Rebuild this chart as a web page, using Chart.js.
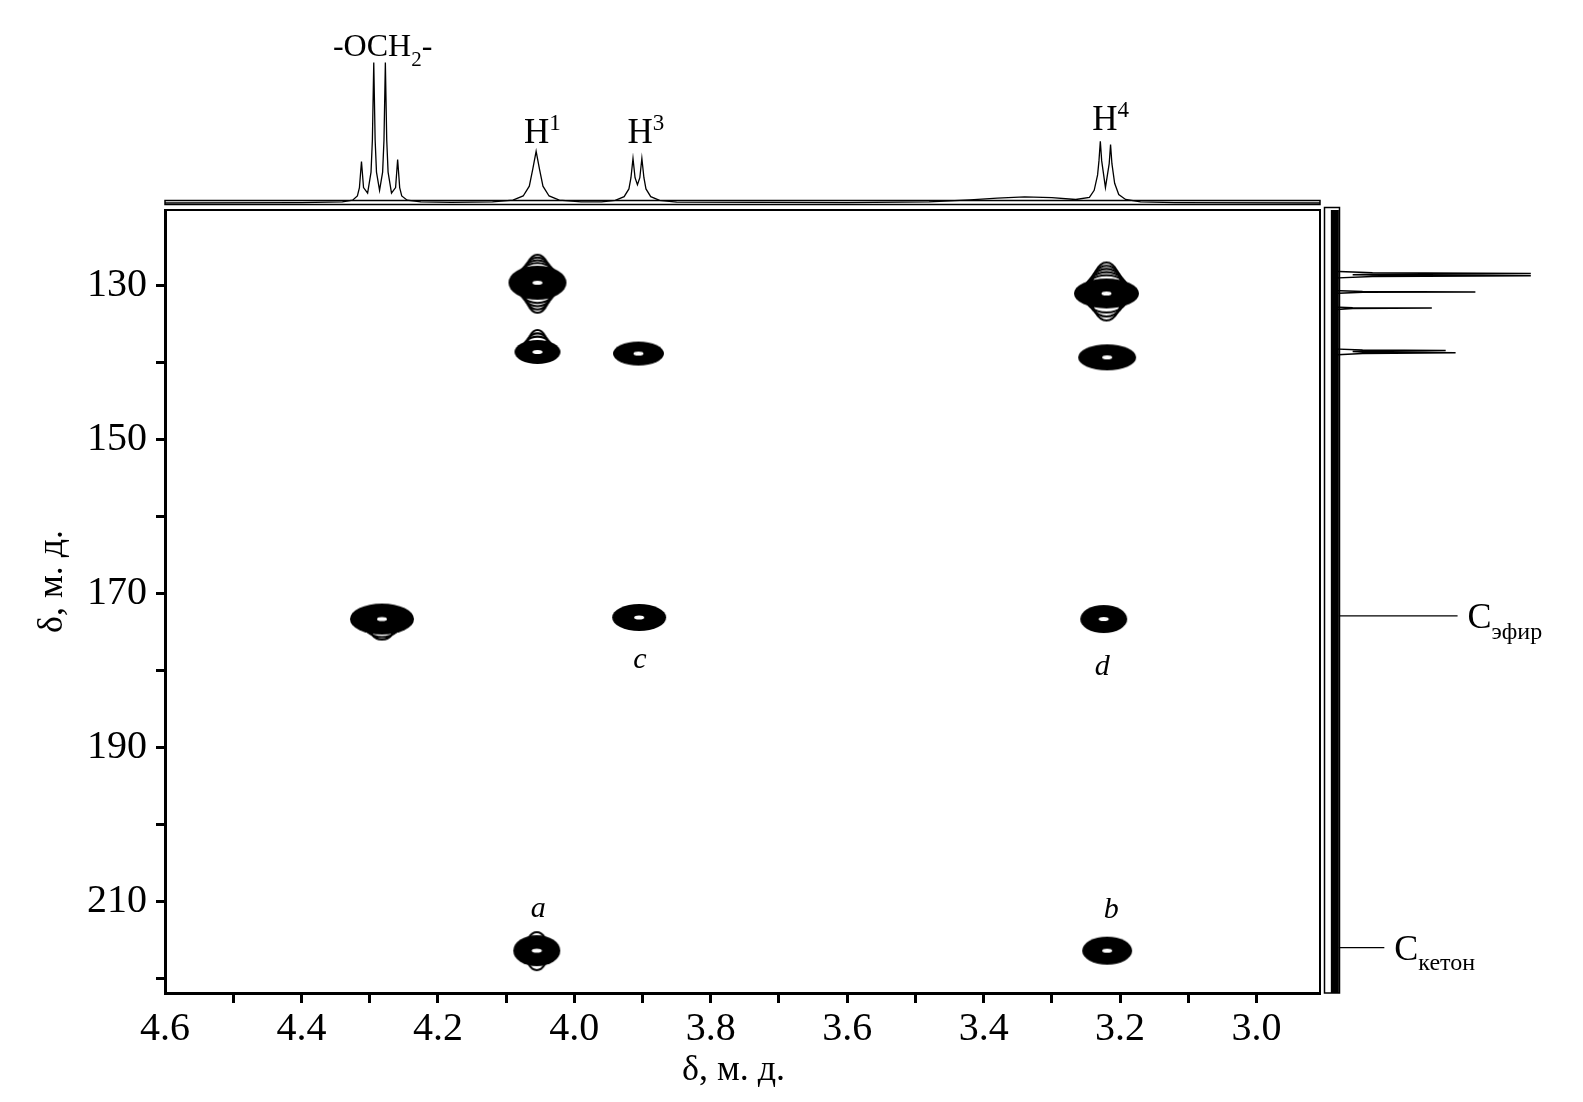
<!DOCTYPE html>
<html>
<head>
<meta charset="utf-8">
<script src="https://cdn.jsdelivr.net/npm/chart.js@4.4.1/dist/chart.umd.min.js"></script>
<style>
  html, body { margin: 0; padding: 0; background: #fff; }
</style>
</head>
<body>
<canvas id="hmbc" width="1583" height="1102"></canvas>
<script>
var FONT = "'Liberation Serif', 'Times New Roman', serif";

// 1H projection on top: shift (ppm) and intensity (% of the tallest line)
var hShift = [4.600, 4.400, 4.340, 4.325, 4.318, 4.315, 4.312, 4.309, 4.303, 4.298, 4.296, 4.294, 4.292, 4.290,
  4.2855, 4.281, 4.279, 4.277, 4.275, 4.273, 4.268, 4.262, 4.259, 4.256, 4.253, 4.245, 4.225, 4.180,
  4.120, 4.090, 4.075, 4.066, 4.061, 4.056, 4.051, 4.046, 4.037, 4.022, 3.990,
  3.960, 3.940, 3.927, 3.920, 3.917, 3.914, 3.911, 3.9075, 3.904, 3.901, 3.898, 3.895, 3.888, 3.875, 3.850,
  3.600, 3.480, 3.420, 3.380, 3.340, 3.300, 3.265,
  3.245, 3.238, 3.233, 3.231, 3.229, 3.227, 3.2215, 3.216, 3.214, 3.212, 3.208, 3.202, 3.192, 3.170, 3.120, 2.907];
var hInt = [0, 0.3, 0.8, 2.0, 5, 11, 29.6, 11, 7, 22, 45, 100, 45, 22,
  9, 22, 45, 100, 45, 22, 7, 11, 31, 11, 5, 2, 0.8, 0.4,
  0.8, 2.0, 5, 12, 24, 36.8, 24, 12, 5, 2, 0.8,
  0.8, 1.8, 4.5, 10, 18, 31.7, 18, 13, 18, 31.7, 18, 10, 4.5, 1.8, 0.6,
  0.2, 0.8, 2.2, 3.5, 4.3, 3.8, 2.5,
  4, 9, 20, 30, 44, 30, 11, 28, 41.7, 28, 14, 6, 2.5, 0.8, 0.3, 0];

// 13C projection on the right: shift (ppm) and intensity
var cShift = [120.15, 128.1, 128.3, 128.4, 128.5, 128.55, 128.6, 128.7, 128.8, 129.0,
  130.6, 130.75, 130.8, 130.85, 131.0, 132.75, 132.85, 132.9, 132.95, 133.1,
  138.2, 138.35, 138.4, 138.5, 138.55, 138.6, 138.7, 138.8, 139.0, 221.9];
var cInt = [0, 0, 20, 100, 20, 10, 25, 100, 20, 0,
  0, 15, 72, 15, 0, 0, 10, 50, 10, 0,
  0, 15, 57, 15, 10, 15, 62, 15, 0, 0];
var cNoiseShift = [120.15, 221.9];
var cNoiseInt = [1, 1];

// HMBC cross peaks (1H shift, 13C shift)
var crossH = [4.054, 4.054, 3.906, 3.220, 3.219, 4.282, 3.905, 3.224, 4.055, 3.219];
var crossC = [129.6, 138.6, 138.8, 131.0, 139.3, 173.3, 173.1, 173.3, 216.4, 216.4];

// letters under some cross peaks
var letterText = ['c', 'd', 'a', 'b'];
var letterH = [3.904, 3.226, 4.053, 3.213];
var letterC = [178.6, 179.6, 211.0, 211.1];

// top trace labels
var hLabels = [
  [['-OCH', 'n'], ['2', 'sub'], ['-', 'n']],
  [['H', 'n'], ['1', 'sup']],
  [['H', 'n'], ['3', 'sup']],
  [['H', 'n'], ['4', 'sup']]
];
var hLabelShift = [4.281, 4.047, 3.895, 3.214];

// right trace labels
var cLabels = [
  [['C', 'n'], ['эфир', 'sub']],
  [['C', 'n'], ['кетон', 'sub']]
];
var cLabelShift = [172.9, 216.0];
var cLabelLen = [63, 26];

var xTickVals = [4.6, 4.5, 4.4, 4.3, 4.2, 4.1, 4.0, 3.9, 3.8, 3.7, 3.6, 3.5, 3.4, 3.3, 3.2, 3.1, 3.0];
var xTickLabels = ['4.6', '4.4', '4.2', '4.0', '3.8', '3.6', '3.4', '3.2', '3.0'];
var yTickVals = [130, 140, 150, 160, 170, 180, 190, 200, 210, 220];
var yTickLabels = ['130', '150', '170', '190', '210'];

// look of each cross peak (px)
var blobStyle = [
  { w: 58, h: 34, top: 4, topExt: 11, bot: 4, botExt: 13 },
  { w: 46, h: 24, top: 3, topExt: 10 },
  { w: 51, h: 24 },
  { w: 65, h: 30, top: 5, topExt: 16, bot: 3, botExt: 12 },
  { w: 58, h: 26 },
  { w: 64, h: 31, bot: 2, botExt: 5 },
  { w: 54, h: 27 },
  { w: 47, h: 28 },
  { w: 47, h: 31, top: 1, topExt: 3, bot: 1, botExt: 4 },
  { w: 50, h: 28 }
];

function makeBlob(s) {
  var ext = Math.max(s.topExt || 0, s.botExt || 0);
  var c = document.createElement('canvas');
  c.width = s.w + 6;
  c.height = s.h + 2 * ext + 6;
  var g = c.getContext('2d');
  var cx = c.width / 2, cy = c.height / 2, rx = s.w / 2, ry = s.h / 2, k;
  g.strokeStyle = '#000';
  g.lineWidth = 2.1;
  for (k = 1; k <= (s.top || 0); k++) {
    g.beginPath();
    g.ellipse(cx, cy, rx * (0.82 - 0.34 * k / s.top), ry + s.topExt * k / s.top, 0, Math.PI, 2 * Math.PI);
    g.stroke();
  }
  for (k = 1; k <= (s.bot || 0); k++) {
    g.beginPath();
    g.ellipse(cx, cy, rx * (0.82 - 0.34 * k / s.bot), ry + s.botExt * k / s.bot, 0, 0, Math.PI);
    g.stroke();
  }
  g.fillStyle = '#000';
  g.beginPath();
  g.ellipse(cx, cy, rx, ry, 0, 0, 2 * Math.PI);
  g.fill();
  // innermost contour gap
  g.fillStyle = '#fff';
  g.beginPath();
  g.ellipse(cx, cy, 5, 2, 0, 0, 2 * Math.PI);
  g.fill();
  return c;
}

function richWidth(ctx, parts, size) {
  var w = 0;
  parts.forEach(function (p) {
    ctx.font = (p[1] === 'n' ? size : Math.round(size * 0.66)) + 'px ' + FONT;
    w += ctx.measureText(p[0]).width;
  });
  return w;
}

function drawRich(ctx, parts, x, y, size, align) {
  var cx = align === 'center' ? x - richWidth(ctx, parts, size) / 2 : x;
  ctx.textAlign = 'left';
  ctx.textBaseline = 'alphabetic';
  parts.forEach(function (p) {
    var dy = 0;
    if (p[1] === 'sub') dy = size * 0.3;
    if (p[1] === 'sup') dy = -size * 0.38;
    ctx.font = (p[1] === 'n' ? size : Math.round(size * 0.66)) + 'px ' + FONT;
    ctx.fillText(p[0], cx, y + dy);
    cx += ctx.measureText(p[0]).width;
  });
}

var frames = {
  id: 'frames',
  beforeDatasetsDraw: function (chart) {
    var ctx = chart.ctx, a = chart.chartArea;
    ctx.save();
    ctx.strokeStyle = '#000';
    ctx.lineWidth = 2;
    ctx.beginPath();
    ctx.moveTo(a.left, a.top);
    ctx.lineTo(a.right, a.top);
    ctx.lineTo(a.right, a.bottom);
    ctx.stroke();
    // thin boxes of the two projections
    ctx.lineWidth = 1.5;
    ctx.strokeRect(a.left, a.top - 9.5, a.right - a.left, 4);
    ctx.strokeRect(a.right + 4.5, a.top - 2.5, 15, a.bottom - a.top + 2.5);
    ctx.restore();
  },
  afterDraw: function (chart) {
    var ctx = chart.ctx, a = chart.chartArea;
    var sx = chart.scales.x, sy = chart.scales.y, sc = chart.scales.xC;
    ctx.save();
    ctx.fillStyle = '#000';
    // top trace labels
    var hBase = [56, 143, 143, 130];
    hLabels.forEach(function (parts, i) {
      drawRich(ctx, parts, sx.getPixelForValue(hLabelShift[i]), hBase[i], i === 0 ? 32 : 35, 'center');
    });
    // right trace leaders and labels
    ctx.strokeStyle = '#000';
    ctx.lineWidth = 1.2;
    cLabels.forEach(function (parts, i) {
      var py = sy.getPixelForValue(cLabelShift[i]);
      var x0 = sc.getPixelForValue(3), x1 = sc.getPixelForValue(cLabelLen[i]);
      ctx.beginPath();
      ctx.moveTo(x0, py);
      ctx.lineTo(x1, py);
      ctx.stroke();
      drawRich(ctx, parts, x1 + 10, py + 12, 36, 'left');
    });
    // cross peak letters
    ctx.font = 'italic 30px ' + FONT;
    ctx.textAlign = 'center';
    ctx.textBaseline = 'middle';
    letterText.forEach(function (t, i) {
      ctx.fillText(t, sx.getPixelForValue(letterH[i]), sy.getPixelForValue(letterC[i]));
    });
    // axis titles
    ctx.font = '36px ' + FONT;
    ctx.fillText('δ, м. д.', (a.left + a.right) / 2 - 9, a.bottom + 78);
    ctx.translate(53, (a.top + a.bottom) / 2 - 20);
    ctx.rotate(-Math.PI / 2);
    ctx.fillText('δ, м. д.', 0, 0);
    ctx.restore();
  }
};

var ctx = document.getElementById('hmbc').getContext('2d');
var chart = new Chart(ctx, {
  type: 'scatter',
  data: {
    datasets: [{
      label: '1H',
      data: hShift.map(function (v, i) { return { x: v, y: hInt[i] }; }),
      xAxisID: 'x', yAxisID: 'yH',
      showLine: true, borderColor: '#000', borderWidth: 1.3, pointRadius: 0, clip: false
    }, {
      label: '13C noise',
      data: cNoiseShift.map(function (v, i) { return { x: cNoiseInt[i], y: v }; }),
      xAxisID: 'xC', yAxisID: 'y',
      showLine: true, borderColor: '#000', borderWidth: 8, pointRadius: 0, clip: false
    }, {
      label: '13C',
      data: cShift.map(function (v, i) { return { x: cInt[i], y: v }; }),
      xAxisID: 'xC', yAxisID: 'y',
      showLine: true, borderColor: '#000', borderWidth: 1.5, pointRadius: 0, clip: false
    }, {
      label: 'HMBC',
      data: crossH.map(function (v, i) { return { x: v, y: crossC[i] }; }),
      xAxisID: 'x', yAxisID: 'y',
      pointStyle: blobStyle.map(makeBlob),
      pointRadius: 5
    }]
  },
  options: {
    responsive: false,
    animation: false,
    devicePixelRatio: 1,
    layout: { padding: { left: 0, top: 210, right: 263, bottom: 0 } },
    plugins: { legend: { display: false }, tooltip: { enabled: false } },
    scales: {
      x: {
        type: 'linear', position: 'bottom', reverse: true, min: 2.907, max: 4.6,
        afterFit: function (s) { s.height = 109; },
        afterBuildTicks: function (s) { s.ticks = xTickVals.map(function (v) { return { value: v }; }); },
        ticks: {
          autoSkip: false, maxRotation: 0, padding: 2, color: '#000',
          font: { family: FONT, size: 40 },
          callback: function (v) { var t = v.toFixed(1); return xTickLabels.indexOf(t) >= 0 ? t : ''; }
        },
        grid: {
          drawOnChartArea: false, drawTicks: true, tickLength: 10, tickWidth: 3,
          tickColor: function (c) { return c.tick && c.tick.value === 4.6 ? 'rgba(0,0,0,0)' : '#000'; }
        },
        border: { display: true, color: '#000', width: 3 }
      },
      y: {
        type: 'linear', position: 'left', reverse: true, min: 120.15, max: 221.9,
        afterFit: function (s) { s.width = 165; },
        afterBuildTicks: function (s) { s.ticks = yTickVals.map(function (v) { return { value: v }; }); },
        ticks: {
          autoSkip: false, padding: 9, color: '#000',
          font: { family: FONT, size: 40 },
          callback: function (v) { var t = String(v); return yTickLabels.indexOf(t) >= 0 ? t : ''; }
        },
        grid: { drawOnChartArea: false, drawTicks: true, tickLength: 9, tickWidth: 3, tickColor: '#000' },
        border: { display: true, color: '#000', width: 3 }
      },
      yH: { type: 'linear', axis: 'y', display: false, min: -562.7, max: -4.99 },
      xC: { type: 'linear', axis: 'x', display: false, min: -590, max: -6.5 }
    }
  },
  plugins: [frames]
});
</script>
</body>
</html>
